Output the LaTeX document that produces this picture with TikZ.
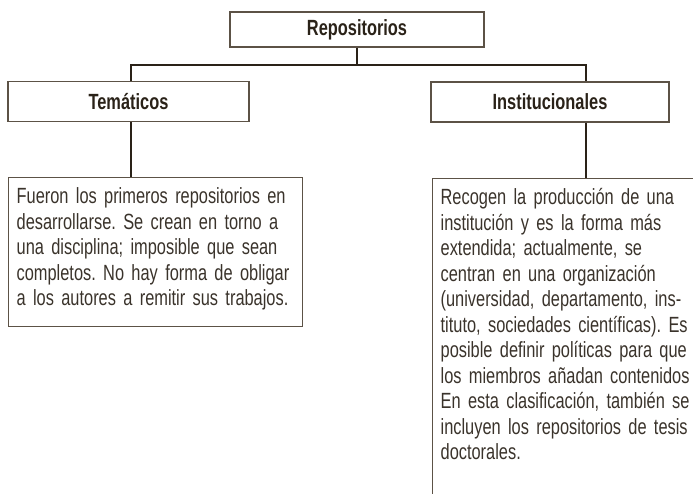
\documentclass[tikz,border=0pt]{standalone}
\usepackage{fontspec}
\setmainfont{Liberation Sans}[FakeStretch=0.745]
\usepackage{tikz}

\definecolor{inkdark}{HTML}{2A2218}
\definecolor{boxline}{HTML}{5C5246}
\definecolor{bodytext}{HTML}{3A332B}

\tikzset{
  head/.style={draw=boxline, line width=1.3pt, text=inkdark, inner sep=0pt,
    font=\bfseries\fontsize{22}{25.5}\selectfont, minimum height=40pt},
  desc/.style={draw=boxline, line width=1.3pt, text=bodytext, anchor=north west,
    font=\frenchspacing\fontsize{22}{25.5}\selectfont, align=left, text width=278pt,
    inner xsep=8pt, inner ysep=10pt},
  link/.style={draw=inkdark, line width=2.8pt}
}

\begin{document}
\begin{tikzpicture}[x=1pt,y=-1pt]
  \useasboundingbox (0,0) rectangle (693,493);
  \clip (0,0) rectangle (693,493);

  \node[head, minimum width=254pt, minimum height=35pt] (repo) at (357,29.5) {Repositorios};
  \node[head, minimum width=241pt] (tema) at (128.5,101.5) {Temáticos};
  \node[head, minimum width=238pt] (inst) at (550,102) {Institucionales};

  \node[desc] (temadesc) at (8,177) {Fueron los primeros repositorios en\\
    desarrollarse. Se crean en torno a\\
    una disciplina; imposible que sean\\
    completos. No hay forma de obligar\\
    a los autores a remitir sus trabajos.\rule[-11pt]{0pt}{11pt}};
  \node[desc, text width=320pt] (instdesc) at (432,178) {Recogen la producción de una\\
    institución y es la forma más\\
    extendida; actualmente, se\\
    centran en una organización\\
    (universidad, departamento, ins-\\
    tituto, sociedades científicas). Es\\
    posible definir políticas para que\\
    los miembros añadan contenidos\\
    En esta clasificación, también se\\
    incluyen los repositorios de tesis\\
    doctorales.\rule[-60pt]{0pt}{60pt}};

  \coordinate (busL) at (131,65);
  \coordinate (busR) at (586,65);

  % tree
  \draw[link] (repo.south) -- (repo.south |- busL);
  \draw[link] (busL |- tema.north) -- (busL) -- (busR) -- (busR |- inst.north);
  \draw[link] (busL |- tema.south) -- (busL |- temadesc.north);
  \draw[link] (busR |- inst.south) -- (busR |- instdesc.north);
\end{tikzpicture}
\end{document}
